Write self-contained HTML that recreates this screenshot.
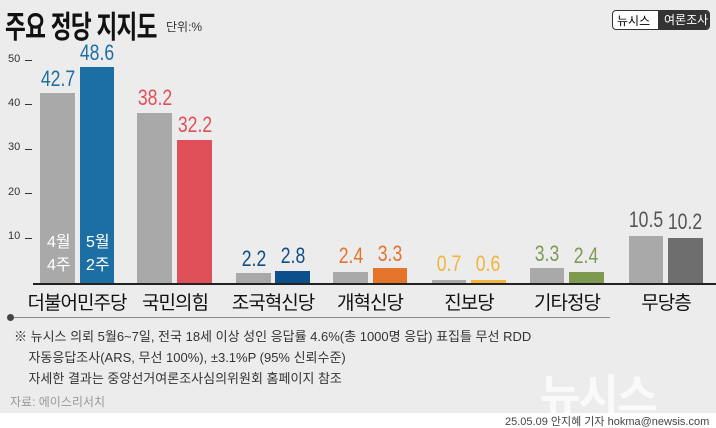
<!DOCTYPE html><html><head><meta charset="utf-8"><style>
body{margin:0}
#c{position:relative;width:716px;height:428px;background:#ececec;overflow:hidden;font-family:"Liberation Sans","Noto Sans CJK KR",sans-serif}
.a{position:absolute;white-space:nowrap}
.b{position:absolute}
.v{position:absolute;width:60px;text-align:center;font-size:22px;transform:scaleX(.8)}
.lab{position:absolute;width:100px;text-align:center;font-size:19px;top:288px;color:#111;letter-spacing:-1px}
.t{position:absolute;font-size:11px;color:#333;left:8px}
.tk{position:absolute;left:25px;width:7px;height:1px;background:#333}
</style></head><body><div id="c">
<div class="a" style="left:5px;top:2px;font-size:31px;font-weight:bold;color:#111;letter-spacing:-1px;transform:scaleX(.73);transform-origin:left">주요 정당 지지도</div>
<div class="a" style="left:166px;top:18px;font-size:12px;color:#333">단위:%</div>
<div class="a" style="left:612px;top:10px;width:96px;height:18px;border:1px solid #333;border-radius:4px;overflow:hidden;font-size:12px;background:#fff">
<span style="position:absolute;left:4px;top:1px">뉴시스</span><span style="position:absolute;left:45px;top:0;width:55px;height:18px;background:#333;color:#fff;padding-left:6px">여론조사</span></div>
<div class="t" style="top:53px">50</div><div class="tk" style="top:60px"></div>
<div class="t" style="top:97px">40</div><div class="tk" style="top:104px"></div>
<div class="t" style="top:141px">30</div><div class="tk" style="top:149px"></div>
<div class="t" style="top:186px">20</div><div class="tk" style="top:193px"></div>
<div class="t" style="top:230px">10</div><div class="tk" style="top:238px"></div>
<div class="b" style="left:40px;top:93px;width:35px;height:190px;background:#a9a9a9"></div>
<div class="b" style="left:80px;top:67px;width:34px;height:216px;background:#1b6fa3"></div>
<div class="b" style="left:137px;top:113px;width:35px;height:170px;background:#a9a9a9"></div>
<div class="b" style="left:177px;top:140px;width:35px;height:143px;background:#e05058"></div>
<div class="b" style="left:236px;top:273px;width:35px;height:10px;background:#a9a9a9"></div>
<div class="b" style="left:275px;top:271px;width:35px;height:12px;background:#0d4f8a"></div>
<div class="b" style="left:333px;top:272px;width:35px;height:11px;background:#a9a9a9"></div>
<div class="b" style="left:373px;top:268px;width:34px;height:15px;background:#e3742a"></div>
<div class="b" style="left:432px;top:280px;width:34px;height:3px;background:#a9a9a9"></div>
<div class="b" style="left:471px;top:280px;width:35px;height:3px;background:#f5b33a"></div>
<div class="b" style="left:530px;top:268px;width:34px;height:15px;background:#a9a9a9"></div>
<div class="b" style="left:569px;top:272px;width:35px;height:11px;background:#7d9a4f"></div>
<div class="b" style="left:629px;top:236px;width:34px;height:47px;background:#a9a9a9"></div>
<div class="b" style="left:668px;top:238px;width:35px;height:45px;background:#6e6e6e"></div>
<div class="b" style="left:33px;top:283px;width:683px;height:2px;background:#222"></div>
<div class="v" style="left:28px;top:66px;color:#1b6fa3">42.7</div>
<div class="v" style="left:67px;top:40px;color:#1b6fa3">48.6</div>
<div class="v" style="left:125px;top:85px;color:#e05058">38.2</div>
<div class="v" style="left:165px;top:112px;color:#e05058">32.2</div>
<div class="v" style="left:224px;top:246px;color:#0d4f8a">2.2</div>
<div class="v" style="left:263px;top:243px;color:#0d4f8a">2.8</div>
<div class="v" style="left:321px;top:243px;color:#e3742a">2.4</div>
<div class="v" style="left:360px;top:241px;color:#e3742a">3.3</div>
<div class="v" style="left:419px;top:251px;color:#f5b33a">0.7</div>
<div class="v" style="left:458px;top:251px;color:#f5b33a">0.6</div>
<div class="v" style="left:517px;top:241px;color:#7d9a4f">3.3</div>
<div class="v" style="left:556px;top:243px;color:#7d9a4f">2.4</div>
<div class="v" style="left:616px;top:207px;color:#555">10.5</div>
<div class="v" style="left:655px;top:209px;color:#555">10.2</div>
<div class="a" style="left:47px;top:231px;font-size:16px;color:#fff;line-height:23px;text-align:center">4월<br>4주</div>
<div class="a" style="left:86px;top:231px;font-size:16px;color:#fff;line-height:23px;text-align:center">5월<br>2주</div>
<div class="lab" style="left:27px">더불어민주당</div>
<div class="lab" style="left:125px">국민의힘</div>
<div class="lab" style="left:223px">조국혁신당</div>
<div class="lab" style="left:320px">개혁신당</div>
<div class="lab" style="left:419px">진보당</div>
<div class="lab" style="left:517px">기타정당</div>
<div class="lab" style="left:616px">무당층</div>
<div class="b" style="left:10px;top:317px;width:600px;height:1px;background:#888"></div>
<div class="b" style="left:7px;top:314px;width:7px;height:7px;border-radius:50%;background:#444"></div>
<div class="a" style="left:14px;top:326px;font-size:13px;color:#333;line-height:21px">※ 뉴시스 의뢰 5월6~7일, 전국 18세 이상 성인 응답률 4.6%(총 1000명 응답) 표집틀 무선 RDD<br>&nbsp;&nbsp;&nbsp; 자동응답조사(ARS, 무선 100%), ±3.1%P (95% 신뢰수준)<br>&nbsp;&nbsp;&nbsp; 자세한 결과는 중앙선거여론조사심의위원회 홈페이지 참조</div>
<div class="a" style="left:10px;top:393px;font-size:12px;color:#999">자료: 에이스리서치</div>
<div class="a" style="left:540px;top:360px;font-size:44px;font-weight:bold;color:#fafafa;letter-spacing:-2px">뉴시스</div>
<div class="b" style="left:0;top:413px;width:716px;height:15px;background:#fff"></div>
<div class="a" style="left:505px;top:413px;font-size:11px;color:#444">25.05.09 안지혜 기자 hokma@newsis.com</div>
</div></body></html>
